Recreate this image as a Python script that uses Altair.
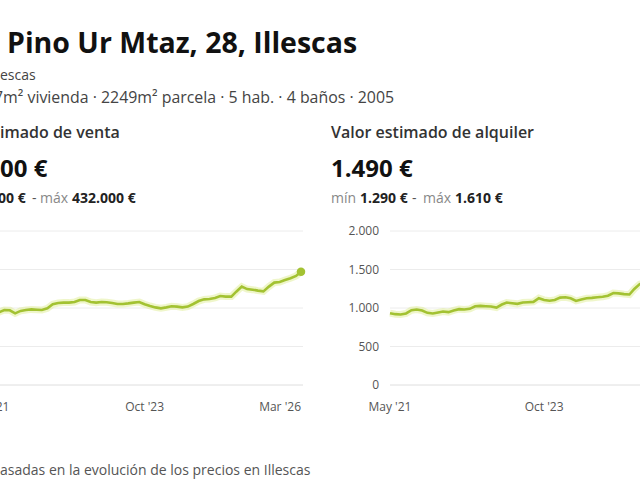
import altair as alt
import pandas as pd

FONT = "Open Sans"
LINE = "#a3c232"
GLOW = "#dcec8a"

# monthly estimates, May 2021 to March 2026
months = pd.date_range("2021-05-01", periods=59, freq="MS").strftime("%Y-%m-%d").tolist()

sale_values = [
    227000, 230500, 236000, 243500, 242500, 232500, 240500, 243500, 245500, 244500,
    243500, 249000, 262000, 266000, 267500, 267500, 269500, 276000, 276000, 269500,
    267500, 269500, 268500, 266000, 263000, 263000, 265000, 267500, 269500, 262000,
    256500, 252000, 249000, 252000, 255500, 254500, 252000, 254500, 263000, 272500,
    278000, 279000, 282500, 289000, 287000, 287000, 303000, 319500, 311500, 309500,
    306500, 304000, 319500, 332500, 334500, 341000, 346500, 354000, 368000,
]

rent_values = [
    933, 920, 916, 929, 972, 980, 968, 937, 929, 942,
    955, 946, 968, 985, 980, 989, 1023, 1028, 1023, 1019,
    1006, 1045, 1071, 1062, 1054, 1071, 1075, 1079, 1127, 1105,
    1095, 1105, 1135, 1140, 1127, 1092, 1109, 1127, 1131, 1140,
    1145, 1160, 1195, 1190, 1180, 1175, 1247, 1310, 1330, 1355,
    1345, 1375, 1400, 1395, 1420, 1440, 1455, 1470, 1490,
]

x_tick_dates = ["2021-05-01", "2023-10-01", "2026-03-01"]
x_tick_labels = ["May '21", "Oct '23", "Mar '26"]

sale_grid = [0, 125000, 250000, 375000, 500000]
rent_grid = [0, 500, 1000, 1500, 2000]
rent_grid_labels = ["0", "500", "1.000", "1.500", "2.000"]

n = len(months)
sale_df = pd.DataFrame({"date": months, "value": sale_values,
                        "last": [i == n - 1 for i in range(n)]})
rent_df = pd.DataFrame({"date": months, "value": rent_values,
                        "last": [i == n - 1 for i in range(n)]})

t0 = alt.DateTime(year=2021, month=5, date=1, utc=True)
t1 = alt.DateTime(year=2026, month=3, date=1, utc=True)

# pixel ranges of each panel inside the 640x480 canvas
x_sale = alt.Scale(domain=[t0, t1], range=[-12, 301])
x_rent = alt.Scale(domain=[t0, t1], range=[390, 698])
y_sale = alt.Scale(domain=[0, 500000], range=[385, 231], nice=False, zero=True)
y_rent = alt.Scale(domain=[0, 2000], range=[385, 231], nice=False, zero=True)


def text(t, x, y, size, weight="normal", color="#333333", align="left"):
    return alt.Chart(alt.Data(values=[{}])).mark_text(
        font=FONT, fontSize=size, fontWeight=weight, color=color,
        align=align, baseline="alphabetic",
    ).encode(x=alt.value(x), y=alt.value(y), text=alt.value(t))


def grid(values, yscale, x0, x1):
    df = pd.DataFrame({"v": values})
    base = alt.Chart(df)
    lines = base.mark_rule(color="#ececec", strokeWidth=1).encode(
        y=alt.Y("v:Q", scale=yscale, axis=None),
        x=alt.value(x0), x2=alt.value(x1),
    ).transform_filter("datum.v > 0")
    floor = base.mark_rule(color="#dedede", strokeWidth=1).encode(
        y=alt.Y("v:Q", scale=yscale, axis=None),
        x=alt.value(x0), x2=alt.value(x1),
    ).transform_filter("datum.v == 0")
    return [lines, floor]


def series(df, xscale, yscale):
    base = alt.Chart(df).encode(
        x=alt.X("date:T", scale=xscale, axis=None),
        y=alt.Y("value:Q", scale=yscale, axis=None),
    )
    return [
        base.mark_line(color=GLOW, strokeWidth=7, opacity=0.45, interpolate="linear"),
        base.mark_line(color=LINE, strokeWidth=2.6, interpolate="linear"),
        base.mark_circle(color=LINE, size=72, opacity=1).transform_filter("datum.last"),
    ]


def x_labels(xscale, last_right):
    df = pd.DataFrame({"date": x_tick_dates, "label": x_tick_labels,
                       "end": [False, False, True]})
    enc = dict(
        x=alt.X("date:T", scale=xscale, axis=None),
        y=alt.value(411),
        text="label:N",
    )
    mid = alt.Chart(df).mark_text(
        font=FONT, fontSize=12, color="#555555", align="center", baseline="alphabetic"
    ).encode(**enc)
    if not last_right:
        return [mid]
    mid = mid.transform_filter("!datum.end")
    end = alt.Chart(df).mark_text(
        font=FONT, fontSize=12, color="#555555", align="right", baseline="alphabetic"
    ).encode(**enc).transform_filter("datum.end")
    return [mid, end]


rent_axis_df = pd.DataFrame({"v": rent_grid, "label": rent_grid_labels})
rent_axis = alt.Chart(rent_axis_df).mark_text(
    font=FONT, fontSize=12, color="#555555", align="right", baseline="middle"
).encode(
    y=alt.Y("v:Q", scale=y_rent, axis=None),
    x=alt.value(379),
    text="label:N",
)

header = [
    text("Pino Ur Mtaz, 28, Illescas", 7, 53, 28.5, weight="bold", color="#111111"),
    text("escas", 0, 80, 14, color="#444444"),
    text("7m² vivienda · 2249m² parcela · 5 hab. · 4 baños · 2005", -6, 103, 15.9, color="#444444"),
    # sale panel heading
    text("imado de venta", 0, 138, 16, weight=600, color="#333333"),
    text("00 €", 0, 177, 24, weight="bold", color="#111111"),
    text("00 €", -2, 203, 14, weight="bold", color="#222222"),
    text("-", 32, 203, 14, color="#555555"),
    text("máx", 40, 203, 14, color="#888888"),
    text("432.000 €", 72, 203, 14, weight="bold", color="#222222"),
    # rent panel heading
    text("Valor estimado de alquiler", 331, 138, 16, weight=600, color="#333333"),
    text("1.490 €", 331, 177, 24, weight="bold", color="#111111"),
    text("mín", 331, 203, 14, color="#888888"),
    text("1.290 €", 360, 203, 14, weight="bold", color="#222222"),
    text("-", 412, 203, 14, color="#555555"),
    text("máx", 423, 203, 14, color="#888888"),
    text("1.610 €", 455, 203, 14, weight="bold", color="#222222"),
    # footnote
    text("asadas en la evolución de los precios en Illescas", 0, 475, 14, color="#555555"),
]

layers = (
    header
    + grid(sale_grid, y_sale, -20, 303)
    + grid(rent_grid, y_rent, 390, 660)
    + series(sale_df, x_sale, y_sale)
    + series(rent_df, x_rent, y_rent)
    + x_labels(x_sale, True)
    + x_labels(x_rent, False)
    + [rent_axis]
)

chart = (
    alt.layer(*layers)
    .resolve_scale(x="independent", y="independent")
    .properties(
        width=640,
        height=480,
        autosize=alt.AutoSizeParams(type="none"),
        padding=0,
        background="white",
    )
    .configure_view(stroke=None)
)

chart.save("out.html", embed_options={"renderer": "svg", "actions": False})
